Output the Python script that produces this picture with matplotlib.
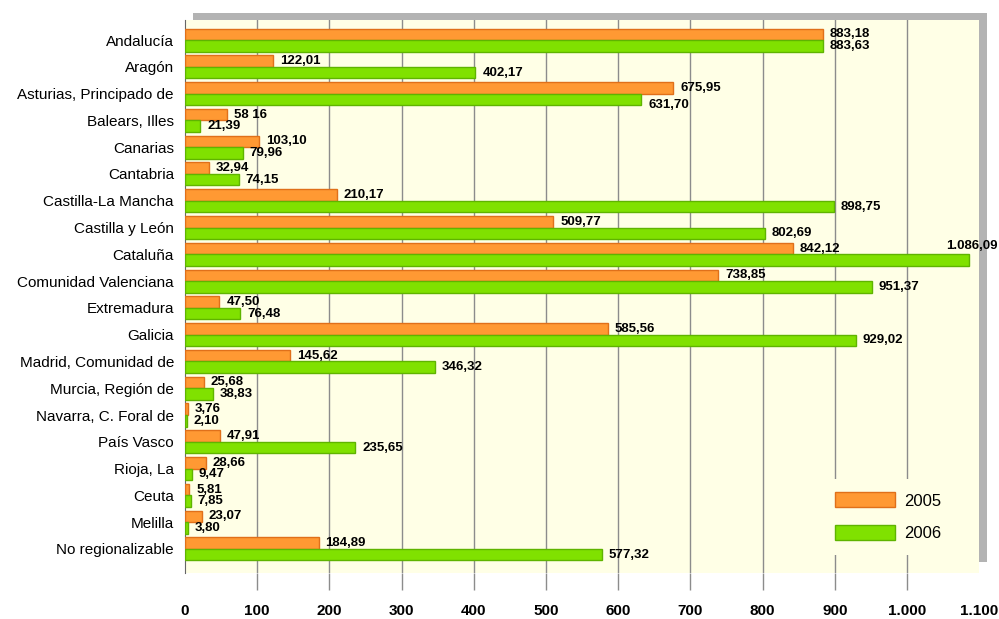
import numpy as np
import matplotlib.pyplot as plt
from matplotlib.patches import Rectangle

plt.rcParams['font.family'] = ['Liberation Sans', 'DejaVu Sans']

regiones = ['Andalucía', 'Aragón', 'Asturias, Principado de', 'Balears, Illes', 'Canarias',
            'Cantabria', 'Castilla-La Mancha', 'Castilla y León', 'Cataluña',
            'Comunidad Valenciana', 'Extremadura', 'Galicia', 'Madrid, Comunidad de',
            'Murcia, Región de', 'Navarra, C. Foral de', 'País Vasco', 'Rioja, La',
            'Ceuta', 'Melilla', 'No regionalizable']
v2005 = [883.18, 122.01, 675.95, 58.16, 103.10, 32.94, 210.17, 509.77, 842.12, 738.85,
         47.50, 585.56, 145.62, 25.68, 3.76, 47.91, 28.66, 5.81, 23.07, 184.89]
v2006 = [883.63, 402.17, 631.70, 21.39, 79.96, 74.15, 898.75, 802.69, 1086.09, 951.37,
         76.48, 929.02, 346.32, 38.83, 2.10, 235.65, 9.47, 7.85, 3.80, 577.32]
xticks = [0, 100, 200, 300, 400, 500, 600, 700, 800, 900, 1000, 1100]


def fmt(v):
    s = '{:,.2f}'.format(v)
    return s.replace(',', 'X').replace('.', ',').replace('X', '.')


lab2005 = [fmt(v) for v in v2005]
lab2006 = [fmt(v) for v in v2006]
lab2005[3] = '58 16'  # as printed in the original

c05, e05 = '#ff9933', '#e0701a'
c06, e06 = '#80e100', '#5fb400'
bg = '#ffffe6'

fig = plt.figure(figsize=(9.99, 6.19), dpi=100)
ax = fig.add_axes([0.1852, 0.0743, 0.795, 0.8934])

# grey shadow behind the plot area
fig.patches.append(Rectangle((0.1932, 0.0743 + 0.0178), 0.795, 0.8934 - 0.0065,
                             transform=fig.transFigure, facecolor='#b3b3b3',
                             edgecolor='none', zorder=-1))
ax.set_facecolor(bg)

y = np.arange(len(regiones))
h = 0.43
ax.barh(y - h / 2, v2005, height=h, color=c05, edgecolor=e05, linewidth=1, zorder=3, label='2005')
ax.barh(y + h / 2, v2006, height=h, color=c06, edgecolor=e06, linewidth=1, zorder=3, label='2006')

for i in range(len(regiones)):
    dy05, dy06 = 0, 0
    if i == 2:
        dy06 = -6
    ax.annotate(lab2005[i], (v2005[i], y[i] - h / 2), xytext=(7, dy05), textcoords='offset pixels',
                va='center', ha='left', fontsize=9.5, fontweight='bold', zorder=5)
    if v2006[i] > 1050:
        ax.annotate(lab2006[i], (1100, y[i] + h / 2), xytext=(18, 14), textcoords='offset pixels',
                    va='center', ha='right', fontsize=9.5, fontweight='bold', zorder=5,
                    annotation_clip=False)
    else:
        ax.annotate(lab2006[i], (v2006[i], y[i] + h / 2), xytext=(7, dy06), textcoords='offset pixels',
                    va='center', ha='left', fontsize=9.5, fontweight='bold', zorder=5)

ax.set_xlim(0, 1100)
ax.set_ylim(19.9, -0.75)
ax.set_yticks(y)
ax.set_yticklabels(regiones, fontsize=11)
ax.tick_params(axis='y', length=0, pad=8)

ax.set_xticks(xticks)
ax.set_xticklabels([fmt(t)[:-3] for t in xticks], fontsize=11, fontweight='bold')
ax.tick_params(axis='x', length=12.5, color='#8c8c8c', width=1, pad=10)
ticks = ax.xaxis.get_major_ticks()
ticks[0].tick1line.set_visible(False)
ticks[-1].tick1line.set_visible(False)

for t in xticks[1:-1]:
    ax.axvline(t, color='#8c8c8c', linewidth=1, zorder=1)

for s in ['top', 'right', 'bottom']:
    ax.spines[s].set_visible(False)
ax.spines['left'].set_color('#666666')

leg = ax.legend(loc='lower right', bbox_to_anchor=(0.98, 0.018), fontsize=12, frameon=True,
                facecolor=bg, edgecolor='none', framealpha=1, handlelength=3.6,
                handleheight=1.0, labelspacing=1.0, handletextpad=0.55, borderpad=0.8, fancybox=False)
leg.set_zorder(6)

fig.savefig('out.png', dpi=100)
